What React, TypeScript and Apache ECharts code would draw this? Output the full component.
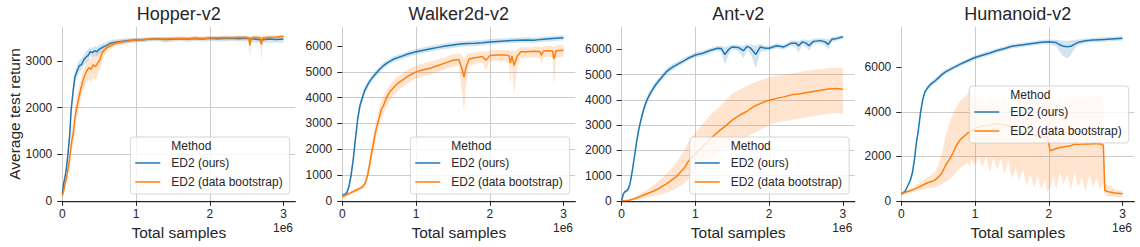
import React, { useEffect, useRef } from "react";
import * as echarts from "echarts";

// [x (x1e6 samples), mean, lower, upper]
type Row = [number, number, number, number];

const PANEL_TITLES = ["Hopper-v2", "Walker2d-v2", "Ant-v2", "Humanoid-v2"];
const SERIES_NAMES = ["ED2 (ours)", "ED2 (data bootstrap)"];
const LEGEND_TITLE = "Method";
const X_LABEL = "Total samples";
const X_UNIT = "1e6";
const Y_LABEL = "Average test return";
const X_TICKS = [0, 1, 2, 3];
const X_MAX = 3.16;
const Y_TICKS = [
  [0, 1000, 2000, 3000],
  [0, 1000, 2000, 3000, 4000, 5000, 6000],
  [0, 1000, 2000, 3000, 4000, 5000, 6000],
  [0, 2000, 4000, 6000],
];
const Y_INTERVALS = [1000, 1000, 1000, 2000];
const Y_MAX = [3730, 6740, 6890, 7820];

const HOPPER_OURS: Row[] = [
  [0, 150, 100, 200], [0.02, 380, 300, 450], [0.05, 620, 550, 700], [0.07, 900, 800, 1000],
  [0.1, 1400, 1250, 1550], [0.12, 1950, 1800, 2100], [0.15, 2400, 2250, 2550], [0.17, 2650, 2500, 2780],
  [0.2, 2780, 2650, 2900], [0.23, 2900, 2780, 3020], [0.26, 2920, 2800, 3050], [0.29, 3020, 2900, 3130],
  [0.32, 3080, 2950, 3200], [0.35, 3120, 3000, 3250], [0.38, 3200, 3100, 3300], [0.41, 3180, 3080, 3280],
  [0.44, 3220, 3120, 3320], [0.47, 3200, 3100, 3300], [0.5, 3250, 3150, 3340], [0.55, 3300, 3220, 3380],
  [0.6, 3330, 3250, 3400], [0.65, 3380, 3310, 3440], [0.7, 3400, 3340, 3460], [0.8, 3420, 3360, 3470],
  [0.9, 3440, 3390, 3490], [1.0, 3450, 3400, 3500], [1.1, 3455, 3410, 3500], [1.2, 3470, 3420, 3510],
  [1.3, 3480, 3430, 3520], [1.4, 3460, 3390, 3510], [1.5, 3470, 3420, 3520], [1.6, 3480, 3430, 3520],
  [1.7, 3470, 3410, 3520], [1.8, 3485, 3430, 3530], [1.9, 3475, 3420, 3520], [2.0, 3490, 3430, 3530],
  [2.1, 3480, 3420, 3525], [2.2, 3485, 3420, 3530], [2.3, 3490, 3430, 3530], [2.4, 3480, 3420, 3530],
  [2.5, 3490, 3430, 3530], [2.6, 3470, 3400, 3520], [2.7, 3450, 3380, 3510], [2.8, 3470, 3400, 3520],
  [2.9, 3460, 3390, 3510], [3.0, 3470, 3400, 3520],
];
const HOPPER_BOOT: Row[] = [
  [0, 100, 60, 150], [0.03, 300, 220, 380], [0.06, 520, 420, 620], [0.09, 800, 650, 950],
  [0.11, 1050, 850, 1250], [0.13, 1300, 1100, 1550], [0.15, 1450, 1200, 1700], [0.17, 1750, 1500, 2000],
  [0.19, 1950, 1700, 2200], [0.21, 2100, 1850, 2350], [0.24, 2330, 2100, 2550], [0.27, 2520, 2300, 2720],
  [0.3, 2680, 2450, 2870], [0.33, 2780, 2550, 2980], [0.36, 2860, 2600, 3050], [0.39, 2820, 2550, 3050],
  [0.42, 2920, 2650, 3120], [0.45, 2880, 2600, 3150], [0.48, 2960, 2700, 3180], [0.51, 3020, 2800, 3200],
  [0.54, 3180, 3000, 3300], [0.57, 3230, 3100, 3330], [0.6, 3280, 3180, 3370], [0.65, 3320, 3240, 3400],
  [0.7, 3370, 3300, 3430], [0.8, 3410, 3350, 3460], [0.9, 3430, 3380, 3480], [1.0, 3450, 3410, 3490],
  [1.1, 3460, 3420, 3500], [1.2, 3470, 3430, 3505], [1.3, 3475, 3440, 3510], [1.4, 3470, 3430, 3510],
  [1.5, 3480, 3440, 3515], [1.6, 3485, 3450, 3520], [1.7, 3480, 3440, 3515], [1.8, 3490, 3450, 3525],
  [1.9, 3485, 3450, 3520], [2.0, 3495, 3460, 3530], [2.1, 3500, 3460, 3535], [2.2, 3505, 3470, 3540],
  [2.3, 3500, 3460, 3540], [2.4, 3510, 3470, 3545], [2.5, 3505, 3470, 3545], [2.53, 3480, 3400, 3540],
  [2.545, 3340, 3000, 3520], [2.56, 3480, 3400, 3540], [2.6, 3510, 3470, 3550], [2.68, 3500, 3450, 3550],
  [2.7, 3350, 2980, 3530], [2.715, 3490, 3420, 3545], [2.8, 3510, 3470, 3550], [2.9, 3515, 3480, 3555],
  [3.0, 3530, 3490, 3570],
];

const WALKER_OURS: Row[] = [
  [0, 220, 170, 280], [0.03, 240, 190, 300], [0.06, 300, 240, 370], [0.09, 550, 450, 650],
  [0.12, 1000, 850, 1150], [0.15, 1650, 1450, 1850], [0.18, 2450, 2250, 2650], [0.21, 3200, 3000, 3400],
  [0.24, 3700, 3500, 3880], [0.27, 3980, 3800, 4150], [0.3, 4250, 4080, 4400], [0.33, 4420, 4280, 4560],
  [0.36, 4580, 4450, 4700], [0.4, 4750, 4630, 4870], [0.45, 4920, 4800, 5040], [0.5, 5080, 4960, 5200],
  [0.55, 5220, 5100, 5340], [0.6, 5330, 5220, 5440], [0.65, 5420, 5310, 5530], [0.7, 5500, 5390, 5610],
  [0.8, 5600, 5490, 5710], [0.9, 5700, 5590, 5810], [1.0, 5780, 5670, 5890], [1.1, 5840, 5730, 5950],
  [1.2, 5900, 5790, 6010], [1.3, 5950, 5840, 6060], [1.4, 6000, 5890, 6110], [1.5, 6040, 5930, 6150],
  [1.6, 6080, 5970, 6190], [1.7, 6100, 5990, 6210], [1.8, 6110, 6000, 6220], [1.9, 6130, 6020, 6240],
  [2.0, 6160, 6060, 6270], [2.1, 6180, 6080, 6290], [2.2, 6200, 6100, 6300], [2.3, 6220, 6120, 6320],
  [2.4, 6230, 6130, 6330], [2.5, 6240, 6140, 6340], [2.6, 6230, 6130, 6330], [2.7, 6260, 6160, 6360],
  [2.8, 6280, 6180, 6380], [2.9, 6300, 6200, 6400], [3.0, 6320, 6220, 6420],
];
const WALKER_BOOT: Row[] = [
  [0, 150, 100, 200], [0.05, 220, 170, 280], [0.1, 290, 230, 350], [0.15, 360, 290, 430],
  [0.2, 430, 360, 510], [0.25, 500, 420, 580], [0.28, 560, 470, 660], [0.31, 680, 550, 850],
  [0.34, 950, 750, 1200], [0.37, 1400, 1150, 1700], [0.4, 1900, 1600, 2250], [0.43, 2350, 2000, 2700],
  [0.46, 2800, 2450, 3150], [0.5, 3200, 2850, 3550], [0.53, 3550, 3200, 3900], [0.56, 3700, 3350, 4050],
  [0.6, 4000, 3650, 4300], [0.65, 4250, 3950, 4520], [0.7, 4400, 4100, 4680], [0.75, 4550, 4250, 4820],
  [0.8, 4650, 4370, 4920], [0.9, 4850, 4580, 5100], [1.0, 5000, 4750, 5250], [1.1, 5080, 4830, 5320],
  [1.2, 5150, 4900, 5400], [1.3, 5250, 5000, 5480], [1.4, 5350, 5100, 5580], [1.5, 5450, 5200, 5680],
  [1.58, 5480, 5250, 5700], [1.62, 5150, 4300, 5650], [1.65, 4800, 3450, 5500], [1.68, 5200, 4500, 5650],
  [1.72, 5500, 5250, 5720], [1.8, 5550, 5300, 5750], [1.9, 5600, 5350, 5800], [1.95, 5450, 5050, 5780],
  [2.0, 5630, 5400, 5830], [2.1, 5650, 5420, 5850], [2.2, 5650, 5420, 5850], [2.26, 5630, 5350, 5850],
  [2.28, 5350, 4500, 5800], [2.3, 5620, 5300, 5850], [2.33, 5250, 4100, 5800], [2.37, 5600, 5200, 5850],
  [2.42, 5780, 5550, 5950], [2.5, 5780, 5550, 5950], [2.6, 5800, 5570, 5970], [2.68, 5790, 5550, 5980],
  [2.7, 5650, 5300, 5950], [2.73, 5810, 5580, 5990], [2.8, 5820, 5590, 6000], [2.85, 5810, 5550, 6000],
  [2.87, 5500, 4450, 5950], [2.9, 5820, 5550, 6020], [3.0, 5840, 5600, 6050],
];

const ANT_OURS: Row[] = [
  [0, 0, 0, 40], [0.02, 250, 180, 320], [0.04, 350, 280, 420], [0.07, 400, 330, 470],
  [0.09, 480, 400, 560], [0.11, 650, 550, 750], [0.13, 950, 830, 1080], [0.15, 1300, 1150, 1450],
  [0.17, 1700, 1550, 1850], [0.2, 2300, 2150, 2450], [0.23, 2800, 2650, 2950], [0.26, 3200, 3050, 3350],
  [0.3, 3650, 3500, 3800], [0.34, 3980, 3830, 4120], [0.38, 4220, 4080, 4360], [0.42, 4420, 4280, 4560],
  [0.46, 4600, 4460, 4740], [0.5, 4750, 4610, 4880], [0.55, 4920, 4790, 5050], [0.6, 5100, 4970, 5220],
  [0.65, 5220, 5100, 5340], [0.7, 5320, 5200, 5440], [0.8, 5480, 5370, 5590], [0.9, 5650, 5550, 5750],
  [1.0, 5780, 5680, 5880], [1.1, 5850, 5750, 5950], [1.2, 5960, 5860, 6060], [1.3, 6050, 5950, 6150],
  [1.35, 6040, 5900, 6140], [1.4, 5800, 5400, 6100], [1.45, 6000, 5800, 6150], [1.5, 6100, 6000, 6200],
  [1.58, 6080, 5950, 6180], [1.65, 5950, 5650, 6150], [1.7, 6120, 6000, 6220], [1.75, 6050, 5800, 6200],
  [1.82, 5800, 5250, 6150], [1.88, 6100, 5900, 6220], [1.95, 6050, 5950, 6150], [2.0, 6050, 5950, 6150],
  [2.1, 6150, 6050, 6250], [2.2, 6100, 6000, 6200], [2.3, 6250, 6150, 6350], [2.36, 6250, 6100, 6350],
  [2.4, 6150, 5850, 6330], [2.45, 6300, 6200, 6400], [2.5, 6250, 6100, 6380], [2.54, 6150, 5950, 6350],
  [2.6, 6320, 6220, 6420], [2.7, 6350, 6250, 6450], [2.76, 6300, 6150, 6420], [2.8, 6200, 6000, 6400],
  [2.85, 6400, 6300, 6480], [2.9, 6420, 6330, 6500], [3.0, 6500, 6420, 6560],
];
const ANT_BOOT: Row[] = [
  [0, 0, 0, 0], [0.05, 0, 0, 10], [0.1, 20, 0, 50], [0.15, 60, 10, 120], [0.2, 110, 40, 200],
  [0.25, 170, 70, 280], [0.3, 230, 110, 370], [0.35, 290, 140, 460], [0.4, 350, 170, 560],
  [0.45, 410, 200, 660], [0.5, 480, 230, 780], [0.55, 570, 270, 900], [0.6, 660, 320, 1050],
  [0.65, 760, 370, 1200], [0.7, 870, 430, 1380], [0.75, 980, 500, 1550], [0.8, 1150, 600, 1780],
  [0.85, 1300, 700, 2000], [0.9, 1550, 850, 2300], [0.95, 1700, 1000, 2500], [1.0, 1880, 1150, 2700],
  [1.1, 2150, 1400, 3050], [1.2, 2450, 1650, 3400], [1.3, 2720, 1900, 3650], [1.4, 2950, 2050, 3950],
  [1.5, 3200, 2200, 4250], [1.6, 3400, 2400, 4400], [1.7, 3550, 2550, 4550], [1.8, 3750, 2700, 4700],
  [1.9, 3880, 2850, 4800], [2.0, 3990, 3000, 4900], [2.1, 4060, 3100, 4950], [2.2, 4120, 3150, 5000],
  [2.3, 4200, 3200, 5050], [2.4, 4230, 3250, 5100], [2.5, 4280, 3300, 5150], [2.6, 4330, 3350, 5200],
  [2.7, 4380, 3400, 5220], [2.8, 4430, 3450, 5250], [2.9, 4450, 3480, 5280], [3.0, 4420, 3450, 5250],
];

const HUMANOID_OURS: Row[] = [
  [0, 300, 250, 350], [0.05, 420, 370, 480], [0.09, 690, 620, 760], [0.12, 900, 820, 980],
  [0.15, 1250, 1150, 1350], [0.18, 1900, 1780, 2020], [0.2, 2500, 2370, 2630], [0.23, 3150, 3020, 3280],
  [0.26, 3950, 3820, 4080], [0.29, 4550, 4420, 4680], [0.32, 4900, 4780, 5020], [0.36, 5100, 4980, 5220],
  [0.4, 5250, 5130, 5370], [0.45, 5370, 5260, 5480], [0.5, 5520, 5410, 5630], [0.55, 5680, 5570, 5790],
  [0.6, 5800, 5690, 5910], [0.7, 5980, 5880, 6080], [0.8, 6150, 6050, 6250], [0.9, 6300, 6200, 6400],
  [1.0, 6450, 6350, 6550], [1.1, 6550, 6450, 6650], [1.2, 6650, 6550, 6750], [1.3, 6760, 6660, 6860],
  [1.4, 6850, 6750, 6950], [1.5, 6950, 6850, 7050], [1.6, 7000, 6900, 7100], [1.7, 7040, 6940, 7140],
  [1.8, 7090, 6990, 7190], [1.9, 7130, 7030, 7230], [2.0, 7160, 7060, 7260], [2.1, 7120, 6950, 7250],
  [2.15, 7020, 6700, 7220], [2.2, 6950, 6500, 7200], [2.25, 6930, 6400, 7200], [2.3, 6950, 6550, 7220],
  [2.35, 7050, 6850, 7250], [2.4, 7130, 7000, 7260], [2.5, 7200, 7100, 7300], [2.6, 7230, 7130, 7330],
  [2.7, 7250, 7150, 7350], [2.8, 7270, 7170, 7370], [2.9, 7290, 7190, 7390], [3.0, 7310, 7210, 7410],
];
const HUMANOID_BOOT: Row[] = [
  [0, 300, 250, 400], [0.05, 380, 300, 460], [0.1, 430, 340, 520], [0.15, 490, 380, 600],
  [0.2, 560, 430, 700], [0.25, 640, 480, 800], [0.3, 720, 520, 920], [0.35, 800, 560, 1050],
  [0.4, 860, 580, 1150], [0.45, 920, 600, 1300], [0.5, 1050, 650, 1600], [0.55, 1250, 750, 2100],
  [0.6, 1600, 850, 2900], [0.65, 1850, 950, 3500], [0.7, 2150, 1100, 3900], [0.75, 2500, 1300, 4250],
  [0.8, 2750, 1500, 4500], [0.85, 2900, 1600, 4650], [0.9, 3050, 1750, 4800], [0.93, 3100, 1500, 5100],
  [0.95, 3150, 1850, 4700], [1.0, 3250, 1600, 4900], [1.05, 3320, 1950, 4500], [1.1, 3380, 1500, 4700],
  [1.15, 3390, 2000, 4400], [1.2, 3400, 1300, 4750], [1.25, 3450, 1950, 4500], [1.3, 3470, 1400, 4700],
  [1.35, 3450, 1900, 4450], [1.4, 3430, 1200, 4650], [1.45, 3380, 1800, 4500], [1.5, 3300, 1000, 4600],
  [1.55, 3200, 1500, 4700], [1.6, 3100, 900, 4500], [1.65, 3050, 1400, 4700], [1.7, 2980, 700, 4550],
  [1.75, 2960, 1200, 4750], [1.8, 2950, 600, 4500], [1.85, 2920, 1100, 4700], [1.9, 2900, 500, 4550],
  [1.95, 2880, 1000, 4650], [1.98, 2870, 400, 4550], [2.02, 2250, 600, 4400], [2.06, 2300, 1100, 4600],
  [2.1, 2350, 500, 4450], [2.15, 2400, 1300, 4650], [2.2, 2420, 700, 4500], [2.25, 2450, 1200, 4700],
  [2.3, 2480, 500, 4550], [2.35, 2550, 1300, 4750], [2.4, 2530, 600, 4550], [2.45, 2550, 1100, 4700],
  [2.5, 2560, 400, 4600], [2.55, 2560, 1200, 4750], [2.6, 2570, 600, 4650], [2.65, 2565, 1000, 4750],
  [2.7, 2560, 500, 4700], [2.74, 2500, 800, 4600], [2.76, 470, 250, 800], [2.8, 420, 200, 700],
  [2.85, 380, 180, 650], [2.9, 350, 170, 500], [3.0, 320, 160, 450],
];

const PANEL_DATA: Row[][][] = [
  [HOPPER_OURS, HOPPER_BOOT],
  [WALKER_OURS, WALKER_BOOT],
  [ANT_OURS, ANT_BOOT],
  [HUMANOID_OURS, HUMANOID_BOOT],
];

const LINE_COLORS = ["#1f77b4", "#ff7f0e"];
const BAND_COLORS = ["rgba(31,119,180,0.2)", "rgba(255,127,14,0.2)"];

const GRID_LEFTS = [62.3, 342.3, 621.7, 901.3];
const GRID_W = 233;
const GRID_TOP = 27;
const GRID_H = 173.8;
const LEGEND_TOPS = [137, 137, 137, 86];
const FONT = '"Liberation Sans", Arial, sans-serif';
const TEXT = "#262626";

export default function App() {
  const ref = useRef<HTMLDivElement>(null);
  useEffect(() => {
    if (!ref.current) return;
    const chart = echarts.init(ref.current, undefined, { renderer: "svg" });

    const grid: any[] = [];
    const xAxis: any[] = [];
    const yAxis: any[] = [];
    const series: any[] = [];
    const legend: any[] = [];
    const graphic: any[] = [];

    PANEL_DATA.forEach((pair, i) => {
      const left = GRID_LEFTS[i];
      grid.push({ left, top: GRID_TOP, width: GRID_W, height: GRID_H });
      xAxis.push({
        type: "value",
        gridIndex: i,
        min: 0,
        max: X_MAX,
        interval: 1,
        axisLine: { show: true, onZero: false, lineStyle: { color: TEXT, width: 1.25 } },
        axisTick: { show: true, length: 5, customValues: X_TICKS, lineStyle: { color: TEXT, width: 1 } },
        axisLabel: {
          customValues: X_TICKS,
          margin: 7,
          fontSize: 12,
          color: TEXT,
          fontFamily: FONT,
          formatter: (v: number) => String(Math.round(v)),
        },
        splitLine: { show: true, showMaxLine: false, lineStyle: { color: "#cccccc", width: 1 } },
      });
      yAxis.push({
        type: "value",
        gridIndex: i,
        min: 0,
        max: Y_MAX[i],
        interval: Y_INTERVALS[i],
        offset: 3,
        axisLine: { show: false },
        axisTick: { show: true, length: 5, customValues: Y_TICKS[i], lineStyle: { color: TEXT, width: 1 } },
        axisLabel: {
          customValues: Y_TICKS[i],
          margin: 7,
          fontSize: 12,
          color: TEXT,
          fontFamily: FONT,
          formatter: (v: number) => String(Math.round(v)),
        },
        splitLine: { show: true, showMaxLine: false, lineStyle: { color: "#cccccc", width: 1 } },
      });

      pair.forEach((rows, k) => {
        series.push({
          type: "custom",
          name: "band-" + i + "-" + k,
          xAxisIndex: i,
          yAxisIndex: i,
          silent: true,
          z: 1 + k * 2,
          data: [[rows[0][0], rows[0][1]]],
          renderItem: (_p: any, api: any) => {
            const upper = rows.map((r) => api.coord([r[0], r[3]]));
            const lower = rows.slice().reverse().map((r) => api.coord([r[0], r[2]]));
            return {
              type: "polygon",
              shape: { points: upper.concat(lower) },
              style: { fill: BAND_COLORS[k] },
            };
          },
        });
        series.push({
          type: "line",
          name: SERIES_NAMES[k],
          xAxisIndex: i,
          yAxisIndex: i,
          z: 2 + k * 2,
          symbol: "none",
          showSymbol: false,
          silent: true,
          color: LINE_COLORS[k],
          lineStyle: { color: LINE_COLORS[k], width: 1.5 },
          data: rows.map((r) => [r[0], r[1]]),
        });
      });

      const lLeft = left + 68;
      const lTop = LEGEND_TOPS[i];
      legend.push({
        data: SERIES_NAMES,
        orient: "vertical",
        left: lLeft,
        top: lTop,
        z: 10,
        selectedMode: false,
        icon: "rect",
        itemWidth: 25,
        itemHeight: 1.5,
        itemGap: 5,
        padding: [19, 7, 5, 5],
        backgroundColor: "rgba(255,255,255,0.8)",
        borderColor: "rgba(204,204,204,0.8)",
        borderWidth: 1,
        borderRadius: 3,
        textStyle: { fontSize: 12, color: TEXT, fontFamily: FONT, lineHeight: 14, padding: [0, 0, 0, 6] },
      });

      graphic.push({
        type: "text",
        x: left + GRID_W / 2,
        y: 14,
        z: 20,
        style: { text: PANEL_TITLES[i], font: `18px ${FONT}`, fill: TEXT, textAlign: "center", textVerticalAlign: "middle" },
      });
      graphic.push({
        type: "text",
        x: left + GRID_W / 2,
        y: 232,
        z: 20,
        style: { text: X_LABEL, font: `15.5px ${FONT}`, fill: TEXT, textAlign: "center", textVerticalAlign: "middle" },
      });
      graphic.push({
        type: "text",
        x: left + 230.7,
        y: 228,
        z: 20,
        style: { text: X_UNIT, font: `12px ${FONT}`, fill: TEXT, textAlign: "right", textVerticalAlign: "middle" },
      });
      graphic.push({
        type: "text",
        x: lLeft + 41,
        y: lTop + 9,
        z: 20,
        style: { text: LEGEND_TITLE, font: `12px ${FONT}`, fill: TEXT, textAlign: "left", textVerticalAlign: "middle" },
      });
    });

    graphic.push({
      type: "text",
      x: 14.5,
      y: 114,
      rotation: Math.PI / 2,
      z: 20,
      style: { text: Y_LABEL, font: `15.5px ${FONT}`, fill: TEXT, textAlign: "center", textVerticalAlign: "middle" },
    });

    chart.setOption({
      animation: false,
      backgroundColor: "#ffffff",
      textStyle: { fontFamily: FONT },
      grid,
      xAxis,
      yAxis,
      legend,
      series,
      graphic,
    });
    return () => chart.dispose();
  }, []);

  return (
    <div
      ref={ref}
      style={{ position: "fixed", left: 0, top: 0, width: 1140, height: 247 }}
    />
  );
}
